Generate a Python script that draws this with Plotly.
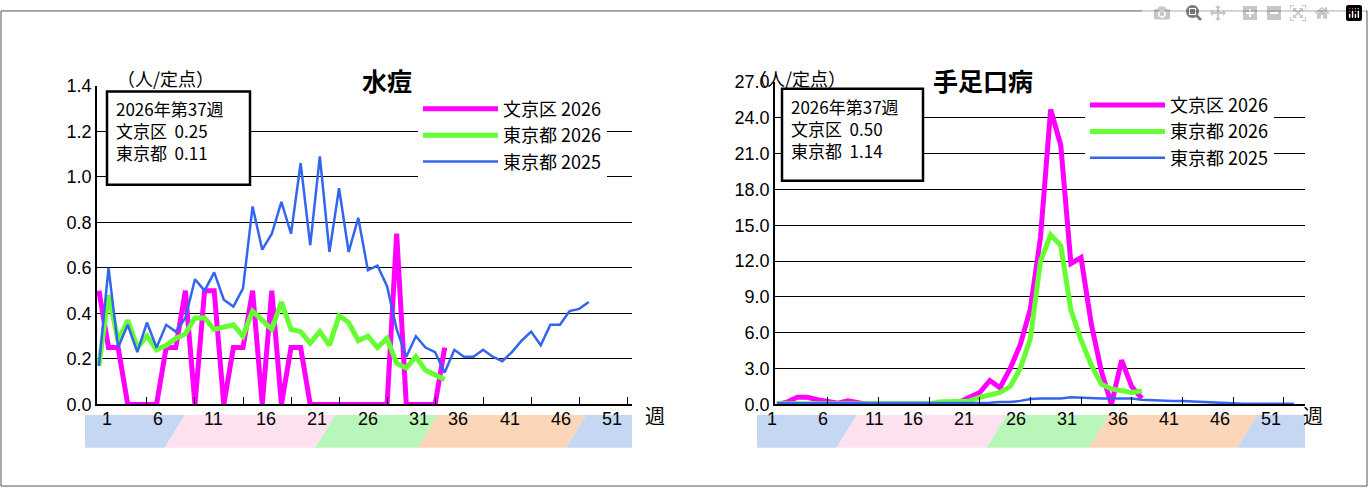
import plotly.graph_objects as go

W, H = 1368, 497
def px(x): return x / W
def py(y): return 1 - y / H

weeks26 = list(range(1, 38))
weeks25 = list(range(1, 53))

# 水痘
vz_bunkyo26 = [0.5,0.25,0.25,0,0,0,0,0.25,0.25,0.5,0,0.5,0.5,0,0.25,0.25,0.5,0,0.5,0,
               0.25,0.25,0,0,0,0,0,0,0,0,0,0.75,0,0,0,0,0.25]
vz_tokyo26 = [0.17,0.48,0.28,0.37,0.25,0.30,0.24,0.26,0.29,0.31,0.38,0.38,0.33,0.34,0.35,0.30,
              0.41,0.37,0.33,0.45,0.33,0.32,0.27,0.32,0.26,0.39,0.36,0.28,0.30,0.25,0.29,0.18,
              0.16,0.21,0.15,0.13,0.11]
vz_tokyo25 = [0.17,0.60,0.25,0.35,0.23,0.36,0.25,0.35,0.32,0.38,0.55,0.50,0.58,0.46,0.43,0.51,
              0.87,0.68,0.75,0.89,0.75,1.06,0.70,1.09,0.67,0.95,0.67,0.82,0.59,0.61,0.52,0.33,
              0.21,0.30,0.25,0.23,0.14,0.24,0.21,0.21,0.24,0.21,0.19,0.23,0.28,0.32,0.26,0.35,
              0.35,0.41,0.42,0.45]

# 手足口病
hf_bunkyo26 = [0,0.2,0.6,0.6,0.4,0.2,0.1,0.3,0.1,0,0,0,0,0,0,0,0,0,0.2,0.6,
               1.0,2.0,1.4,3.0,5.0,8.0,14.0,24.7,21.7,11.8,12.3,6.8,2.8,0,3.7,1.5,0.5]
hf_tokyo26 = [0.05,0.05,0.05,0.05,0.05,0.05,0.05,0.05,0.05,0.05,0.05,0.05,0.05,0.05,0.05,0.05,
              0.2,0.2,0.2,0.3,0.6,0.75,1.0,1.5,3.0,5.5,12.0,14.2,13.3,7.9,5.4,3.3,1.7,1.3,
              1.15,1.0,1.14]
hf_tokyo25 = [0.1,0.1,0.1,0.1,0.1,0.1,0.1,0.1,0.1,0.1,0.1,0.1,0.1,0.1,0.1,0.1,0.1,0.1,0.1,0.1,
              0.15,0.15,0.2,0.2,0.3,0.45,0.5,0.5,0.5,0.6,0.55,0.5,0.5,0.5,0.5,0.5,0.4,0.35,
              0.3,0.3,0.3,0.25,0.2,0.2,0.1,0.1,0.05,0.05,0.05,0.05,0.05,0.05]

band_labels = ["1", "6", "11", "16", "21", "26", "31", "36", "41", "46", "51"]
band_vals = [1, 6, 11, 16, 21, 26, 31, 36, 41, 46, 51]

MAG, GRN, BLU = "#ff00ff", "#66ff33", "#3366ee"
FONT = "Noto Sans CJK JP"

fig = go.Figure()

def add_chart(xa, ya, leg, b26, t26, t25):
    fig.add_trace(go.Scatter(x=weeks26, y=b26, mode="lines", name="文京区 2026",
                             line=dict(color=MAG, width=5), xaxis=xa, yaxis=ya, legend=leg))
    fig.add_trace(go.Scatter(x=weeks26, y=t26, mode="lines", name="東京都 2026",
                             line=dict(color=GRN, width=5), xaxis=xa, yaxis=ya, legend=leg))
    fig.add_trace(go.Scatter(x=weeks25, y=t25, mode="lines", name="東京都 2025",
                             line=dict(color=BLU, width=2.5), xaxis=xa, yaxis=ya, legend=leg))

add_chart("x", "y", "legend", vz_bunkyo26, vz_tokyo26, vz_tokyo25)
add_chart("x2", "y2", "legend2", hf_bunkyo26, hf_tokyo26, hf_tokyo25)

xcommon = dict(showgrid=False, showline=True, linecolor="black", linewidth=1.5,
               ticks="inside", ticklen=8, tickcolor="black", showticklabels=False,
               tickvals=[6, 11, 16, 21, 26, 31, 36, 41, 46, 51, 56], zeroline=False)
ycommon = dict(showgrid=True, gridcolor="black", gridwidth=1.2, showline=True,
               linecolor="black", linewidth=1.5, tickformat=".1f", zeroline=False,
               tickfont=dict(family="Liberation Sans", size=18, color="black"), ticks="")

lay = dict(width=W, height=H, margin=dict(l=0, r=0, t=0, b=0),
           paper_bgcolor="white", plot_bgcolor="white", font=dict(family=FONT, color="black"))
lay["xaxis"] = dict(xcommon, domain=[px(97), px(632)], range=[0.8, 56.5], anchor="y")
lay["yaxis"] = dict(ycommon, domain=[py(411), py(79)], range=[0, 1.4], dtick=0.2, anchor="x")
lay["xaxis2"] = dict(xcommon, domain=[px(775), px(1305)], range=[0.8, 53.1], anchor="y2")
lay["yaxis2"] = dict(ycommon, domain=[py(411), py(75)], range=[0, 27], dtick=3, anchor="x2")

legfont = dict(family=FONT, size=18, color="black")
lay["legend"] = dict(x=px(418), y=py(84), xanchor="left", yanchor="top", bgcolor="white",
                     font=legfont, tracegroupgap=0, itemwidth=75)
lay["legend2"] = dict(x=px(1085), y=py(80), xanchor="left", yanchor="top", bgcolor="white",
                      font=legfont, tracegroupgap=0, itemwidth=75)
fig.update_layout(**lay)

shapes = [dict(type="rect", xref="paper", yref="paper", x0=px(1), x1=px(1367), y0=py(496), y1=py(1),
               line=dict(color="#555", width=1))]
annotations = []

def band(x0px, x1px, lab_x1):
    per = (lab_x1 - (x0px + 15)) / 50.0
    def wx(w): return x0px + 15 + (w - 1) * per
    segs = [("#c6d7f4", None, 8.3), ("#fde1ef", 8.3, 23), ("#b9f6b9", 23, 33),
            ("#fbd6b8", 33, 47.5), ("#c6d7f4", 47.5, None)]
    ytop, ybot = 422, 456
    for col, a, b in segs:
        if a is None:
            xl_b = xl_t = x0px
        else:
            xl_b, xl_t = wx(a) - 10, wx(a) + 10
        if b is None:
            xr_b = xr_t = x1px
        else:
            xr_b, xr_t = wx(b) - 10, wx(b) + 10
        path = "M {} {} L {} {} L {} {} L {} {} Z".format(
            px(xl_b), py(ybot), px(xl_t), py(ytop), px(xr_t), py(ytop), px(xr_b), py(ybot))
        shapes.append(dict(type="path", xref="paper", yref="paper", path=path,
                           fillcolor=col, line=dict(width=0), layer="below"))
    for v, t in zip(band_vals, band_labels):
        annotations.append(dict(x=px(wx(v)), y=py(439), xref="paper", yref="paper", text=t,
                                showarrow=False, font=dict(family="Liberation Sans", size=18, color="black")))

band(85, 632, 612)
band(757, 1305, 1283)

def box(x0, y0, x1, y1, lines):
    shapes.append(dict(type="rect", xref="paper", yref="paper", x0=px(x0), x1=px(x1),
                       y0=py(y1), y1=py(y0), line=dict(color="black", width=2.5), fillcolor="white"))
    annotations.append(dict(x=px(x0 + 7), y=py(y0 + 3), xref="paper", yref="paper", xanchor="left",
                            yanchor="top", align="left", showarrow=False, text="<br>".join(lines),
                            font=dict(family=FONT, size=17, color="black")))

box(107, 85, 250, 182, ["2026年第37週", "文京区  0.25", "東京都  0.11"])
box(782, 82, 923, 178, ["2026年第37週", "文京区  0.50", "東京都  1.14"])

for x, t in [(360, "水痘"), (1035, "手足口病")]:
    annotations.append(dict(x=px(x), y=py(52), xref="paper", yref="paper", text="<b>" + t + "</b>",
                            showarrow=False, font=dict(family=FONT, size=25, color="black")))
for x in (115, 797):
    annotations.append(dict(x=px(x), y=py(55), xref="paper", yref="paper", text="（人/定点）",
                            showarrow=False, font=dict(family=FONT, size=18, color="black")))
for x in (655, 1325):
    annotations.append(dict(x=px(x), y=py(440), xref="paper", yref="paper", text="週",
                            showarrow=False, font=dict(family=FONT, size=20, color="black")))

fig.update_layout(shapes=shapes, annotations=annotations)
fig.write_html("out.html", post_script="document.body.style.margin='0';document.body.style.overflow='hidden';")
